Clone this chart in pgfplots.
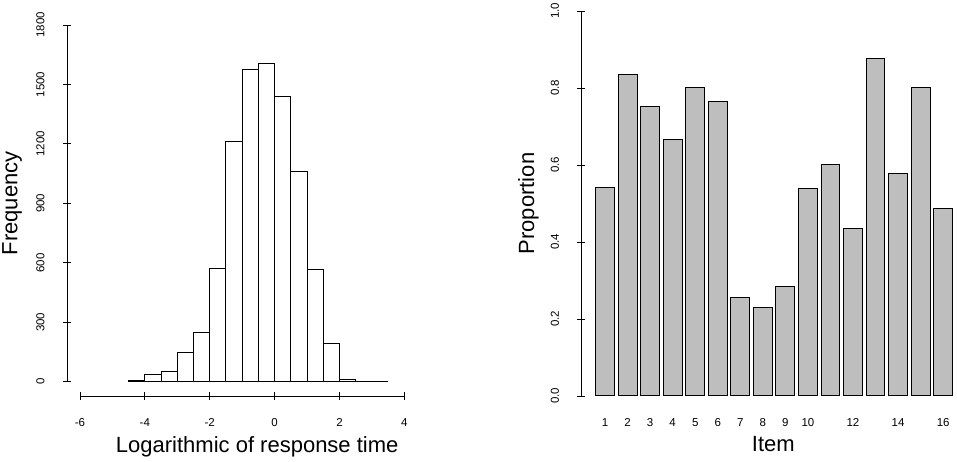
\documentclass[border=0pt]{standalone}
\usepackage{fontspec}
\setmainfont{Liberation Sans}
\usepackage{pgfplots}
\pgfplotsset{compat=1.18}
\begin{document}
\begin{tikzpicture}
\useasboundingbox (0pt,0pt) rectangle (957pt,462pt);
\clip (0pt,0pt) rectangle (957pt,462pt);
\pgfplotsset{
  rstyle/.style={
    scale only axis,
    axis line style={-, line width=0.9pt},
    every outer x axis line/.append style={-},
    every outer y axis line/.append style={-},
    tick align=outside,
    major tick length=8pt,
    every tick/.style={line width=0.9pt, black},
    tick label style={font=\fontsize{11.5}{13}\selectfont},
    label style={font=\fontsize{22}{26}\selectfont},
    yticklabel style={anchor=center, xshift=-22.5pt, rotate=90},
    clip=false,
  }
}
% ---------- left: histogram ----------
\begin{axis}[rstyle,
  at={(67pt,66pt)}, anchor=south west,
  width=350.3pt, height=385.3pt,
  xmin=-6.4, xmax=4.4, ymin=-72, ymax=1872,
  axis x line=bottom, axis y line=left,
  x axis line style={-, shorten <=12.97pt, shorten >=12.97pt},
  y axis line style={-, shorten <=14.27pt, shorten >=14.27pt},
  xticklabel style={anchor=center, yshift=-22.3pt},
  xtick={-6,-4,-2,0,2,4}, xticklabels={-6,-4,-2,0,2,4},
  ytick={0,300,600,900,1200,1500,1800},
  yticklabels={0,300,600,900,1200,1500,1800},
  xlabel={Logarithmic of response time},
  ylabel={Frequency},
  xlabel style={at={(axis description cs:0.543,-0.1472)}, anchor=base},
  ylabel style={at={(axis description cs:-0.1419,0.5)}, anchor=base},
]
\addplot[ybar interval, fill=white, draw=black, line width=0.9pt] coordinates {
(-4.5,8) (-4.0,35) (-3.5,50) (-3.0,148) (-2.5,249) (-2.0,569)
(-1.5,1211) (-1.0,1574) (-0.5,1606) (0.0,1441) (0.5,1061) (1.0,564)
(1.5,193) (2.0,13) (2.5,0) (3.0,0) (3.5,0)
};
\end{axis}
% ---------- right: bar chart ----------
\begin{axis}[rstyle,
  at={(581.4pt,50.6pt)}, anchor=south west,
  width=385.4pt, height=415.8pt,
  xmin=-0.56, xmax=19.96, ymin=-0.04, ymax=1.04,
  axis x line=bottom, axis y line=left,
  x axis line style={draw=none},
  y axis line style={-, shorten <=15.4pt, shorten >=15.4pt},
  xtick style={draw=none},
  xticklabel style={anchor=center, yshift=-6.9pt},
  xtick={0.7,1.9,3.1,4.3,5.5,6.7,7.9,9.1,10.3,11.5,13.9,16.3,18.7},
  xticklabels={1,2,3,4,5,6,7,8,9,10,12,14,16},
  ytick={0,0.2,0.4,0.6,0.8,1.0},
  yticklabels={0.0,0.2,0.4,0.6,0.8,1.0},
  xlabel={Item},
  ylabel={Proportion},
  xlabel style={at={(axis description cs:0.498,-0.0969)}, anchor=base},
  ylabel style={at={(axis description cs:-0.123,0.5)}, anchor=base},
]
\addplot[ybar, bar width=1, fill={rgb,255:red,190;green,190;blue,190}, draw=black, line width=1pt] coordinates {
(0.7,0.541) (1.9,0.835) (3.1,0.753) (4.3,0.666) (5.5,0.800) (6.7,0.764)
(7.9,0.257) (9.1,0.230) (10.3,0.284) (11.5,0.539) (12.7,0.600) (13.9,0.436)
(15.1,0.877) (16.3,0.577) (17.5,0.800) (18.7,0.487)
};
\end{axis}
\end{tikzpicture}
\end{document}
